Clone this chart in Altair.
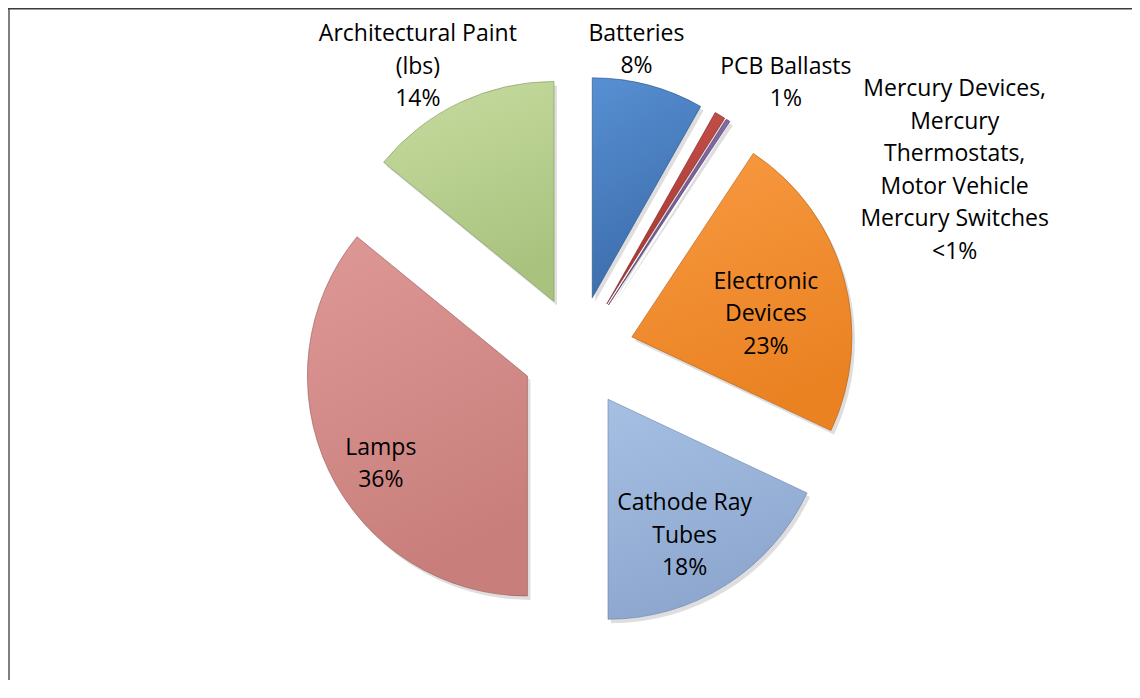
import altair as alt
import pandas as pd

# ---- data ----
categories = [
    "Batteries",
    "PCB Ballasts",
    "Mercury Devices, Mercury Thermostats, Motor Vehicle Mercury Switches",
    "Electronic Devices",
    "Cathode Ray Tubes",
    "Lamps",
    "Architectural Paint (lbs)",
]
shares = [8.2, 0.8, 0.3, 22.7, 18.0, 35.9, 14.1]
pct_labels = ["8%", "1%", "<1%", "23%", "18%", "36%", "14%"]
label_text = [
    "Batteries",
    "PCB Ballasts",
    "Mercury Devices,|Mercury|Thermostats,|Motor Vehicle|Mercury Switches",
    "Electronic|Devices",
    "Cathode Ray|Tubes",
    "Lamps",
    "Architectural Paint|(lbs)",
]

# ---- style ----
top_colors = ["#5790D3", "#CC5650", "#8E73B0", "#F89A42", "#A6C0E4", "#DE9896", "#C7DCA0"]
bottom_colors = ["#3C6CAB", "#A2332D", "#6A4F8C", "#EA8222", "#8CA6CE", "#C87F7C", "#A9C37F"]
edge_colors = ["#2E5588", "#7E2621", "#4F3A6B", "#B5621A", "#6E86AA", "#9C5E5B", "#82985F"]

W, H = 1124, 672
CX, CY = 570, 344        # pie centre (px)
EXPLODE = 56              # explode distance (px)
R = 220                   # outer radius (px)
FONT = "Open Sans"
FS = 23
LH = 32.5

# label placement: distance along slice mid-direction, then nudge
LR = [252, 282, 302, 135, 156, 170, 271]
DX = [-20, 34, 182, 4, -7, 7, -20]
DY = [-4, 21, 119, 14, 5, 15, 10]

df = pd.DataFrame({
    "order": list(range(len(categories))),
    "category": categories,
    "share": shares,
    "pct": pct_labels,
    "label": label_text,
})

base = (
    alt.Chart(df)
    .transform_joinaggregate(total="sum(share)")
    .transform_window(cum="sum(share)", sort=[alt.SortField("order")], frame=[None, 0])
    .transform_calculate(
        t0="2*PI*(datum.cum - datum.share)/datum.total",
        t1="2*PI*datum.cum/datum.total",
        mid="PI*(2*datum.cum - datum.share)/datum.total",
    )
    .transform_calculate(
        ax=f"{CX} + {EXPLODE}*sin(datum.mid)",
        ay=f"{CY} - {EXPLODE}*cos(datum.mid)",
    )
)

arc_enc = dict(
    x=alt.X("ax:Q", scale=None, axis=None),
    y=alt.Y("ay:Q", scale=None, axis=None),
    theta=alt.Theta("t0:Q", scale=None, stack=None),
    theta2="t1:Q",
)

layers = []

# soft shadows
for i in range(len(categories)):
    layers.append(
        base.transform_filter(alt.datum.order == i)
        .mark_arc(radius=R, xOffset=3, yOffset=4, fill="black", opacity=0.13)
        .encode(**arc_enc)
    )

# slices
for i in range(len(categories)):
    grad = alt.Gradient(
        gradient="linear",
        stops=[
            alt.GradientStop(color=top_colors[i], offset=0),
            alt.GradientStop(color=bottom_colors[i], offset=1),
        ],
        x1=0, x2=0.3, y1=0, y2=1,
    )
    layers.append(
        base.transform_filter(alt.datum.order == i)
        .mark_arc(radius=R, fill=grad, stroke=edge_colors[i], strokeWidth=0.8, strokeOpacity=0.8)
        .encode(**arc_enc)
        .properties(width=W, height=H)
    )

# labels (multi-line, vertically centred on the anchor)
for i in range(len(categories)):
    layers.append(
        base.transform_filter(alt.datum.order == i)
        .transform_calculate(lines="split(datum.label + '|' + datum.pct, '|')")
        .transform_calculate(
            lx=f"datum.ax + {LR[i]}*sin(datum.mid) + {DX[i]}",
            ly=f"datum.ay - {LR[i]}*cos(datum.mid) + {DY[i]} - (length(datum.lines) - 1)*{LH}/2",
        )
        .mark_text(font=FONT, fontSize=FS, lineHeight=LH, align="center",
                   baseline="middle", color="#000000")
        .encode(
            x=alt.X("lx:Q", scale=None, axis=None),
            y=alt.Y("ly:Q", scale=None, axis=None),
            text=alt.Text("lines:N"),
        )
    )

# chart frame (left and top edges)
frame_left = (
    alt.Chart(df).transform_filter(alt.datum.order == 0)
    .mark_rule(color="#7F7F7F", strokeWidth=2)
    .encode(x=alt.value(1), y=alt.value(0), y2=alt.value(H))
)
frame_top = (
    alt.Chart(df).transform_filter(alt.datum.order == 0)
    .mark_rule(color="#3A3A3A", strokeWidth=1.5)
    .encode(x=alt.value(0), x2=alt.value(W), y=alt.value(0.75))
)

chart = (
    alt.layer(*layers, frame_left, frame_top)
    .properties(width=W, height=H, padding=0, autosize="none", background="white")
    .configure_view(stroke=None)
)

chart.save("out.html", embed_options={"renderer": "svg", "actions": False})
